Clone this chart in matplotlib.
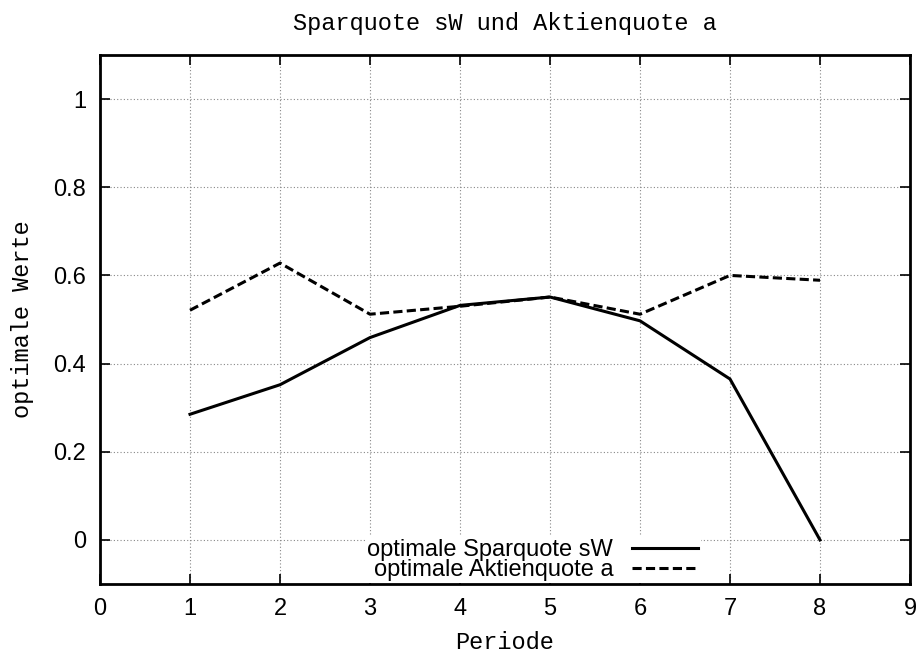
import matplotlib
matplotlib.use("Agg")
import matplotlib.pyplot as plt

# data
perioden = [1, 2, 3, 4, 5, 6, 7, 8]
sparquote = [0.285, 0.352, 0.459, 0.532, 0.551, 0.497, 0.365, 0.0]
aktienquote = [0.521, 0.628, 0.512, 0.53, 0.551, 0.512, 0.60, 0.589]

x_ticks = list(range(0, 10))
y_ticks = [0, 0.2, 0.4, 0.6, 0.8, 1]
y_ticklabels = ["0", "0.2", "0.4", "0.6", "0.8", "1"]

mono = "Liberation Mono"
sans = "Liberation Sans"

fig = plt.figure(figsize=(9.24, 6.57), dpi=100)
ax = fig.add_axes([100 / 924, 1 - 584 / 657, 810 / 924, 529 / 657])

ax.plot(perioden, sparquote, color="black", lw=2.2,
        label="optimale Sparquote sW")
ax.plot(perioden, aktienquote, color="black", lw=2.2, linestyle=(0, (3.0, 1.4)),
        label="optimale Aktienquote a")

ax.set_xlim(0, 9)
ax.set_ylim(-0.1, 1.1)
ax.set_xticks(x_ticks)
ax.set_yticks(y_ticks)
ax.set_yticklabels(y_ticklabels)

ax.grid(True, color="#888888", linestyle=(0, (1, 2)), linewidth=0.8)
ax.tick_params(direction="in", length=7, width=1.2, top=True, right=True,
               labelsize=17, pad=10)
for lab in ax.get_xticklabels() + ax.get_yticklabels():
    lab.set_fontfamily(sans)
for sp in ax.spines.values():
    sp.set_linewidth(2)

ax.set_title("Sparquote sW und Aktienquote a", fontfamily=mono, fontsize=17,
             pad=18)
ax.set_xlabel("Periode", fontfamily=mono, fontsize=17, labelpad=8)
ax.set_ylabel("optimale Werte", fontfamily=mono, fontsize=17, labelpad=14)

leg = ax.legend(loc="lower right", bbox_to_anchor=(0.756, -0.021), markerfirst=False,
                frameon=True, fancybox=False, framealpha=1, edgecolor="none",
                prop={"family": sans, "size": 17}, handlelength=2.8,
                handletextpad=0.8, labelspacing=-0.08, borderpad=0.1)
leg.set_zorder(2.2)

fig.savefig("out.png", dpi=100)
